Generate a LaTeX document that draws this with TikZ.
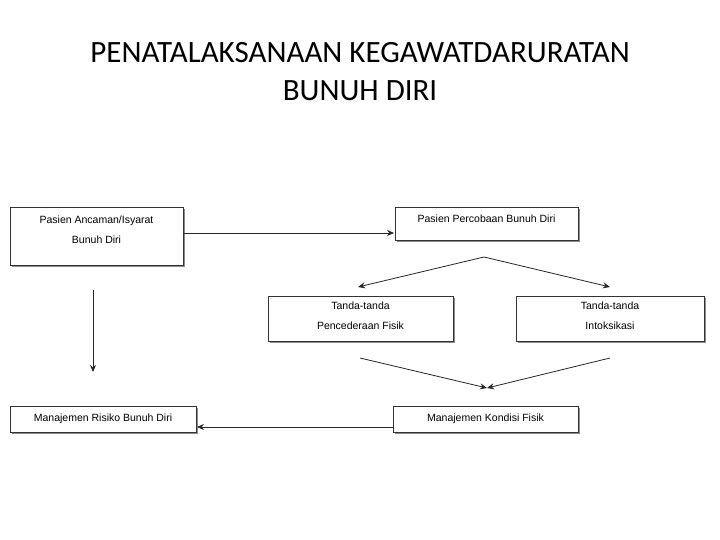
\documentclass[tikz,border=0pt]{standalone}
\usepackage{fontspec}
\usetikzlibrary{arrows.meta}
\setmainfont{Carlito}
\newfontfamily\boxfont{Liberation Sans}
\begin{document}
\begin{tikzpicture}[x=1pt,y=-1pt,
 bx/.style={inner sep=0pt,font=\boxfont\fontsize{10.5}{20}\selectfont,align=center},
 ar/.style={-{Stealth[length=7pt,width=6pt]},line width=0.8pt,black!85}]
\useasboundingbox (0,0) rectangle (720,540);
\node[font=\fontsize{31}{38}\selectfont,align=center] (title) at (360,72) {PENATALAKSANAAN KEGAWATDARURATAN\\BUNUH DIRI};
\newcommand\shbox[5]{%
 \fill[black!45] (#2+2,#3+2) rectangle (#4+2,#5+2);
 \draw[black!80,line width=0.8pt,fill=white] (#2,#3) rectangle (#4,#5);
 \coordinate (#1) at ({(#2+#4)/2},{(#3+#5)/2});}
\shbox{b1}{10}{207}{183}{265}
\node[bx] (t1) at (96.5,230) {Pasien Ancaman/Isyarat\\Bunuh Diri};
\shbox{b2}{395}{207}{578}{240}
\node[bx] (t2) at (486.5,219) {Pasien Percobaan Bunuh Diri};
\shbox{b3}{268}{296}{453}{341}
\node[bx] (t3) at (360.5,316) {Tanda-tanda\\Pencederaan Fisik};
\shbox{b4}{516}{296}{704}{341}
\node[bx] (t4) at (610,316) {Tanda-tanda\\Intoksikasi};
\shbox{b5}{10}{406}{196}{432}
\node[bx] (t5) at (103,419) {Manajemen Risiko Bunuh Diri};
\shbox{b6}{393}{406}{578}{432}
\node[bx] (t6) at (485.5,419) {Manajemen Kondisi Fisik};
\coordinate (a1s) at (183,233); \coordinate (a1e) at (394,233);
\draw[ar] (a1s) -- (a1e);
\coordinate (sp) at (484,257); \coordinate (l3) at (358,287); \coordinate (l4) at (610,287);
\draw[ar] (sp) -- (l3); \draw[ar] (sp) -- (l4);
\coordinate (f3) at (360,358); \coordinate (f4) at (610,358); \coordinate (m) at (487,388);
\draw[ar] (f3) -- (m); \draw[ar] (f4) -- (m);
\coordinate (v1) at (93,290); \coordinate (v2) at (93,372);
\draw[ar] (v1) -- (v2);
\coordinate (h1) at (393,427); \coordinate (h2) at (197,427);
\draw[ar] (h1) -- (h2);
\end{tikzpicture}
\end{document}
